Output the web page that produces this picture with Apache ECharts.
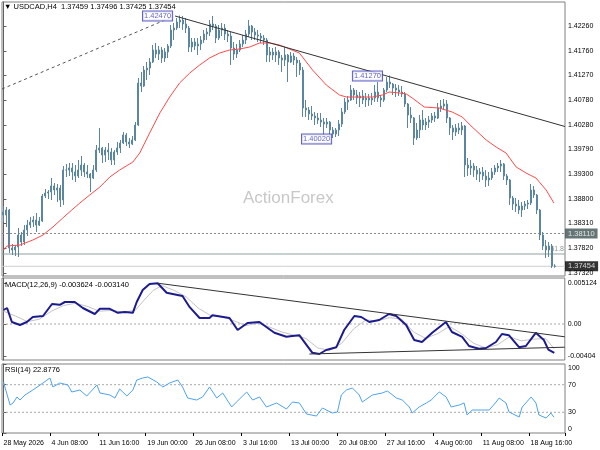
<!DOCTYPE html>
<html><head><meta charset="utf-8">
<script src="https://cdn.jsdelivr.net/npm/echarts@6/dist/echarts.min.js"></script>
<style>html,body{margin:0;padding:0;background:#fff}#c{width:600px;height:450px}</style>
</head><body><div id="c"></div><script>
const timeTickLabels = ["28 May 2026","4 Jun 08:00","11 Jun 16:00","19 Jun 00:00","26 Jun 08:00","3 Jul 16:00","13 Jul 00:00","20 Jul 08:00","27 Jul 16:00","4 Aug 00:00","11 Aug 08:00","18 Aug 16:00"];
const priceTicks = [1.4226,1.4176,1.4127,1.4078,1.4028,1.3979,1.3930,1.3880,1.3831,1.3782,1.3732];
const macdTicks = [0.005124, 0, -0.00404];
const macdTickText = ["0.005124","0.00","-0.00404"];
const rsiTicks = [100,70,30,0];
const rsiInnerTicks = [70,30];
const rsiEdgeTicks = [100,0];
const barSlots = 188;
const categories = Array.from({length: barSlots}, (_, i) => String(i));

// [open, close, low, high]
const ohlcBars = [
[1.3854,1.3848,1.3834,1.3866],[1.3848,1.3858,1.3824,1.3864],[1.3858,1.3782,1.3772,1.3860],[1.3782,1.3778,1.3768,1.3790],
[1.3778,1.3784,1.3766,1.3788],[1.3784,1.3808,1.3764,1.3822],[1.3808,1.3794,1.3786,1.3814],[1.3794,1.3818,1.3788,1.3828],
[1.3818,1.3828,1.3806,1.3838],[1.3828,1.3834,1.3822,1.3844],[1.3834,1.3838,1.3824,1.3846],[1.3838,1.3828,1.3814,1.3852],
[1.3828,1.3836,1.3826,1.3844],[1.3836,1.3886,1.3834,1.3890],[1.3886,1.3892,1.3882,1.3900],[1.3892,1.3894,1.3880,1.3898],
[1.3894,1.3906,1.3878,1.3922],[1.3906,1.3898,1.3888,1.3912],[1.3898,1.3902,1.3874,1.3910],[1.3902,1.3878,1.3864,1.3908],
[1.3878,1.3938,1.3868,1.3946],[1.3938,1.3938,1.3924,1.3950],[1.3938,1.3942,1.3926,1.3952],[1.3942,1.3934,1.3918,1.3952],
[1.3934,1.3926,1.3914,1.3948],[1.3926,1.3938,1.3922,1.3958],[1.3938,1.3948,1.3926,1.3966],[1.3948,1.3934,1.3924,1.3952],
[1.3934,1.3930,1.3922,1.3948],[1.3930,1.3922,1.3894,1.3932],[1.3922,1.3938,1.3920,1.3948],[1.3938,1.3978,1.3934,1.3988],
[1.3978,1.3982,1.3972,1.4022],[1.3982,1.3968,1.3952,1.3984],[1.3968,1.3978,1.3954,1.3984],[1.3978,1.3974,1.3958,1.3992],
[1.3974,1.3958,1.3948,1.3982],[1.3958,1.3974,1.3948,1.3978],[1.3974,1.3982,1.3968,1.3994],[1.3982,1.3992,1.3972,1.3998],
[1.3992,1.4008,1.3990,1.4014],[1.4008,1.3994,1.3986,1.4012],[1.3994,1.3990,1.3982,1.4002],[1.3990,1.3998,1.3988,1.4006],
[1.3998,1.4028,1.3996,1.4034],[1.4028,1.4112,1.4026,1.4122],[1.4112,1.4106,1.4094,1.4134],[1.4106,1.4138,1.4104,1.4146],
[1.4138,1.4142,1.4118,1.4154],[1.4142,1.4154,1.4128,1.4162],[1.4154,1.4178,1.4152,1.4188],[1.4178,1.4170,1.4162,1.4192],
[1.4170,1.4178,1.4158,1.4186],[1.4178,1.4162,1.4152,1.4184],[1.4162,1.4174,1.4154,1.4182],[1.4174,1.4186,1.4162,1.4190],
[1.4186,1.4218,1.4182,1.4228],[1.4218,1.4222,1.4198,1.4232],[1.4222,1.4234,1.4218,1.4242],[1.4234,1.4238,1.4222,1.4247],
[1.4238,1.4230,1.4218,1.4246],[1.4230,1.4222,1.4212,1.4242],[1.4222,1.4184,1.4174,1.4226],[1.4184,1.4194,1.4174,1.4202],
[1.4194,1.4186,1.4178,1.4202],[1.4186,1.4190,1.4168,1.4202],[1.4190,1.4198,1.4178,1.4206],[1.4198,1.4210,1.4192,1.4218],
[1.4210,1.4214,1.4198,1.4222],[1.4214,1.4230,1.4206,1.4238],[1.4230,1.4226,1.4218,1.4246],[1.4226,1.4202,1.4192,1.4230],
[1.4202,1.4218,1.4198,1.4228],[1.4218,1.4222,1.4206,1.4232],[1.4222,1.4210,1.4198,1.4230],[1.4210,1.4206,1.4194,1.4218],
[1.4206,1.4182,1.4148,1.4214],[1.4182,1.4170,1.4158,1.4194],[1.4170,1.4178,1.4162,1.4190],[1.4178,1.4190,1.4174,1.4198],
[1.4190,1.4198,1.4184,1.4208],[1.4198,1.4210,1.4190,1.4218],[1.4210,1.4226,1.4204,1.4238],[1.4226,1.4214,1.4198,1.4228],
[1.4214,1.4208,1.4198,1.4222],[1.4208,1.4206,1.4194,1.4218],[1.4206,1.4202,1.4192,1.4212],[1.4202,1.4198,1.4188,1.4208],
[1.4198,1.4168,1.4154,1.4202],[1.4168,1.4174,1.4154,1.4184],[1.4174,1.4168,1.4158,1.4182],[1.4168,1.4174,1.4154,1.4184],
[1.4174,1.4162,1.4148,1.4178],[1.4162,1.4158,1.4134,1.4168],[1.4158,1.4168,1.4146,1.4184],[1.4168,1.4154,1.4114,1.4170],
[1.4154,1.4166,1.4152,1.4174],[1.4166,1.4158,1.4148,1.4172],[1.4158,1.4152,1.4124,1.4164],[1.4152,1.4138,1.4128,1.4158],
[1.4138,1.4062,1.4044,1.4144],[1.4062,1.4058,1.4044,1.4078],[1.4058,1.4050,1.4038,1.4064],[1.4050,1.4046,1.4038,1.4066],
[1.4046,1.4042,1.4028,1.4054],[1.4042,1.4038,1.4030,1.4052],[1.4038,1.4034,1.4024,1.4052],[1.4034,1.4030,1.4008,1.4042],
[1.4030,1.4034,1.4022,1.4042],[1.4034,1.4018,1.4004,1.4036],[1.4018,1.4010,1.4002,1.4024],[1.4010,1.4018,1.4004,1.4022],
[1.4018,1.4030,1.4006,1.4038],[1.4030,1.4054,1.4024,1.4062],[1.4054,1.4074,1.4050,1.4082],[1.4074,1.4078,1.4058,1.4086],
[1.4078,1.4098,1.4076,1.4108],[1.4098,1.4088,1.4078,1.4102],[1.4088,1.4082,1.4070,1.4098],[1.4082,1.4086,1.4064,1.4094],
[1.4086,1.4078,1.4070,1.4098],[1.4078,1.4082,1.4064,1.4092],[1.4082,1.4078,1.4066,1.4090],[1.4078,1.4082,1.4068,1.4092],
[1.4082,1.4094,1.4074,1.4108],[1.4094,1.4082,1.4074,1.4114],[1.4082,1.4078,1.4064,1.4088],[1.4078,1.4098,1.4074,1.4102],
[1.4098,1.4114,1.4094,1.4124],[1.4114,1.4110,1.4102,1.4127],[1.4110,1.4102,1.4088,1.4112],[1.4102,1.4098,1.4084,1.4110],
[1.4098,1.4094,1.4086,1.4108],[1.4094,1.4090,1.4084,1.4106],[1.4090,1.4070,1.4064,1.4094],[1.4070,1.4048,1.4022,1.4072],
[1.4048,1.4042,1.4032,1.4064],[1.4042,1.4002,1.3988,1.4044],[1.4002,1.4018,1.3998,1.4032],[1.4018,1.4038,1.4002,1.4048],
[1.4038,1.4028,1.4018,1.4058],[1.4028,1.4034,1.4018,1.4042],[1.4034,1.4038,1.4022,1.4046],[1.4038,1.4046,1.4032,1.4052],
[1.4046,1.4042,1.4034,1.4054],[1.4042,1.4062,1.4040,1.4072],[1.4062,1.4066,1.4054,1.4078],[1.4066,1.4070,1.4058,1.4080],
[1.4070,1.4042,1.4032,1.4078],[1.4042,1.4022,1.4008,1.4044],[1.4022,1.4014,1.3998,1.4028],[1.4014,1.4022,1.4006,1.4030],
[1.4022,1.4018,1.4010,1.4032],[1.4018,1.4026,1.4008,1.4034],[1.4026,1.3948,1.3924,1.4028],[1.3948,1.3942,1.3926,1.3962],
[1.3942,1.3946,1.3928,1.3958],[1.3946,1.3938,1.3924,1.3952],[1.3938,1.3930,1.3918,1.3946],[1.3930,1.3934,1.3914,1.3942],
[1.3934,1.3926,1.3918,1.3944],[1.3926,1.3918,1.3904,1.3938],[1.3918,1.3922,1.3906,1.3934],[1.3922,1.3934,1.3918,1.3942],
[1.3934,1.3942,1.3928,1.3948],[1.3942,1.3946,1.3934,1.3952],[1.3946,1.3950,1.3934,1.3958],[1.3950,1.3926,1.3918,1.3952],
[1.3926,1.3918,1.3908,1.3930],[1.3918,1.3882,1.3868,1.3920],[1.3882,1.3870,1.3858,1.3886],[1.3870,1.3866,1.3854,1.3882],
[1.3866,1.3858,1.3850,1.3878],[1.3858,1.3866,1.3844,1.3874],[1.3866,1.3870,1.3858,1.3876],[1.3870,1.3872,1.3860,1.3878],
[1.3872,1.3898,1.3868,1.3910],[1.3898,1.3888,1.3882,1.3906],[1.3888,1.3858,1.3850,1.3890],[1.3858,1.3808,1.3798,1.3860],
[1.3808,1.3786,1.3778,1.3814],[1.3786,1.3778,1.3762,1.3798],[1.3778,1.3786,1.3764,1.3794],[1.3786,1.3746,1.3742,1.3790],
[1.37459,1.37454,1.37425,1.37496]
];

// moving average read at [bar position, price]
const maLine = [[0,1.3778],[1.2,1.3786],[5.5,1.3788],[9.8,1.3798],[13.2,1.3808],[16.5,1.3824],[19.8,1.3842],[22.8,1.3858],[25.5,1.3872],[28.8,1.3888],[32.2,1.3904],[35.5,1.3924],[38.8,1.3938],[43.2,1.3954],[45.5,1.3972],[48.8,1.4012],[52.2,1.4052],[55.5,1.4084],[58.8,1.4112],[62.2,1.4132],[65.5,1.4148],[68.8,1.4162],[72.2,1.4172],[75.5,1.4178],[78.8,1.4180],[82.2,1.4184],[85.5,1.4192],[88.8,1.4192],[92.2,1.4188],[98.8,1.4172],[103.2,1.4138],[107.8,1.4108],[112.2,1.4088],[114.5,1.4084],[118.8,1.4084],[123.2,1.4084],[126.5,1.4088],[128.8,1.4094],[132.2,1.4092],[134.5,1.4090],[136.5,1.4082],[140.5,1.4064],[145.5,1.4062],[149.8,1.4054],[153.2,1.4044],[156.5,1.4024],[161.2,1.3998],[164.5,1.3984],[167.8,1.3972],[171.2,1.3944],[174.5,1.3932],[177.8,1.3922],[181.2,1.3898],[183.8,1.3872]];

const trendDotted = [[-0.5,1.4100],[56.3,1.4244]];
const trendSolid = [[57.3,1.4246],[187.5,1.4025]];
const levelDotted = 1.3811;
const levelFib = 1.3770;
const levelBid = 1.37454;
const priceMarks = [[56.3,1.4246,"1.42470"],[126.4,1.4126,"1.41270"],[109.4,1.4000,"1.40020"]];

const macdMain = [[0,0.00175],[1.2,0.0020],[2.8,0.00025],[5.5,-0.000125],[7.8,0.00025],[9.8,0.000875],[13.2,0.001],[16.2,0.0025],[18.8,0.0024],[20.5,0.00275],[23.8,0.00275],[26.5,0.0020],[30.5,0.00125],[32.2,0.0019],[35.5,0.0019],[38.2,0.0014],[40.5,0.0015],[43.2,0.0014],[44.5,0.00275],[46.5,0.00425],[48.8,0.0050],[51.5,0.0051],[54.5,0.0039],[56.5,0.00375],[59.8,0.0035],[62.2,0.0021],[65.5,0.00075],[68.8,0.00075],[69.8,0.0011],[75.5,0.00075],[78.2,-0.00075],[81.5,0.000125],[85.5,0.00025],[87.8,-0.000375],[90.5,-0.0011],[94.5,-0.0016],[96.5,-0.0015],[98.8,-0.0014],[101.2,-0.0026],[103.2,-0.0036],[105.5,-0.00375],[107.8,-0.00325],[111.2,-0.0029],[113.8,-0.00075],[117.2,0.001],[119.5,0.000875],[122.2,0.00025],[125.5,0.0005],[128.8,0.00125],[131.2,0.001],[134.5,-0.000125],[137.2,-0.002],[139.8,-0.00225],[143.2,-0.0011],[147.8,0.00025],[149.8,-0.001],[153.2,-0.0016],[155.5,-0.00275],[158.8,-0.0031],[161.2,-0.003],[164.5,-0.00225],[166.5,-0.00125],[168.8,-0.0014],[172.2,-0.0029],[174.5,-0.00275],[177.8,-0.0011],[180.5,-0.0020],[182,-0.0032],[184,-0.0036]];
const macdSignal = [[0,0.0016],[4,0.0010],[8,0.0003],[12,0.0006],[16,0.0016],[20,0.0023],[24,0.0026],[28,0.0022],[32,0.0016],[36,0.0017],[40,0.0015],[44,0.0017],[47,0.0030],[50,0.0042],[53,0.0048],[57,0.0042],[61,0.0034],[65,0.0020],[69,0.0011],[73,0.0009],[77,0.0004],[81,-0.0002],[85,0.0001],[89,-0.0004],[93,-0.0010],[97,-0.0014],[101,-0.0018],[105,-0.0030],[109,-0.0033],[113,-0.0024],[117,-0.0006],[121,0.0005],[125,0.0004],[129,0.0008],[133,0.0006],[137,-0.0010],[141,-0.0018],[145,-0.0012],[149,-0.0003],[153,-0.0012],[157,-0.0024],[161,-0.0030],[165,-0.0026],[169,-0.0016],[173,-0.0021],[177,-0.0019],[181,-0.0018],[184,-0.0031]];
const macdTrendUpper = [[51.5,0.0051],[187.5,-0.0016]];
const macdTrendLower = [[102.2,-0.00375],[187.5,-0.0029]];

const rsiLine = [[0,73.9],[0.5,72.5],[2.2,40.6],[3.2,43.5],[4.5,52.2],[5.5,47.8],[7.2,55.1],[9.8,62.3],[13.2,72.5],[15.5,79.7],[16.5,66.7],[18.8,72.5],[21.5,69.6],[22.8,59.4],[25.5,62.3],[27.8,53.6],[31.2,69.6],[32.2,58],[35.5,55.1],[37.2,50.7],[38.8,63.8],[41.2,53.6],[43.2,62.3],[44.5,76.8],[46.5,79.7],[48.2,81.2],[51.2,73.9],[53.2,66.7],[55.5,72.5],[58.2,76.8],[59.8,66.7],[61.5,50.7],[64.5,47.8],[66.5,52.2],[68.8,66.7],[71.2,50.7],[73.2,58],[76.2,37.7],[77.8,44.9],[81.2,59.4],[83.2,47.8],[85.5,52.2],[87.8,37.7],[91.2,43.5],[94.5,34.8],[96.5,44.9],[98.8,43.5],[101.2,27.5],[104.5,24.6],[106.5,36.2],[109.8,29],[111.5,30.4],[112.8,55.1],[114.5,62.3],[116.5,65.2],[118.8,55.1],[119.8,44.9],[123.2,55.1],[126.5,58],[128.2,60.9],[131.2,50.7],[133.2,47.8],[135.5,37.7],[136.5,29],[138.8,37.7],[141.2,43.5],[142.8,47.8],[145.5,59.4],[147.8,52.2],[149.5,37.7],[152.2,40.6],[153.8,43.5],[154.8,26.1],[156.5,33.3],[159.5,33.3],[162.2,33.3],[164.5,44.9],[165.5,50.7],[167.8,43.5],[168.8,30.4],[172.2,23.2],[173.2,37.7],[176.2,52.2],[177.8,43.5],[178.8,26.1],[181.2,21.7],[182.8,29],[183.8,22.9]];
const rsiLevels = [70, 30];

const FONT = "Liberation Sans, Arial, sans-serif";
const xMin = -0.5, xMax = barSlots - 0.5;
const chart = echarts.init(document.getElementById('c'), null, {renderer: 'canvas'});

function hLine(y, xi, yi, style) {
  return {type:'line', xAxisIndex:xi, yAxisIndex:yi, data:[[xMin,y],[xMax,y]], symbol:'none', silent:true, lineStyle:style, z:1};
}
function segLine(data, xi, yi, style, z) {
  return {type:'line', xAxisIndex:xi, yAxisIndex:yi, data:data, symbol:'none', silent:true, lineStyle:style, z:z||3};
}
const gridBorder = {show:true, borderColor:'#808080', borderWidth:1};
const rightLabel = {fontSize:7, color:'#000', fontFamily:FONT, margin:3};

const seriesList = [
    hLine(levelDotted, 1, 0, {color:'#8a8a8a', width:1, type:[2,2]}),
    hLine(levelFib, 1, 0, {color:'#8fa0a0', width:1}),
    hLine(levelBid, 1, 0, {color:'#cfcfcf', width:1}),
    {type:'candlestick', xAxisIndex:0, yAxisIndex:0, data:ohlcBars, barWidth:1.5, z:2,
     itemStyle:{color:'#5b86a2', color0:'#5b86a2', borderColor:'#5b86a2', borderColor0:'#5b86a2', borderWidth:1}},
    segLine(maLine, 1, 0, {color:'#ff4a4a', width:1}, 3),
    segLine(trendDotted, 1, 0, {color:'#555', width:1, type:[3,3]}, 4),
    segLine(trendSolid, 1, 0, {color:'#333', width:1}, 4),
    {type:'scatter', xAxisIndex:1, yAxisIndex:0, symbolSize:0, silent:true, z:6,
     data:priceMarks.map(m => ({value:[m[0], m[1]], name:m[2]})),
     label:{show:true, position:'left', distance:0, formatter:p => p.name, fontSize:7.5, fontFamily:FONT,
       color:'#3a3ab8', backgroundColor:'#fff', borderColor:'#3a3ab8', borderWidth:1, padding:[1,1,0,1]}},
    {type:'scatter', xAxisIndex:1, yAxisIndex:0, symbolSize:0, silent:true, z:6,
     data:[{value:[xMax, levelFib], name:'61.8'}],
     label:{show:true, position:'left', distance:1, offset:[0,-5], formatter:p => p.name, fontSize:7, fontFamily:FONT, color:'#708080'}},
    {type:'scatter', xAxisIndex:1, yAxisIndex:0, symbolSize:0, silent:true, z:8, clip:false,
     data:[{value:[xMax, levelDotted], name:'1.38110', label:{backgroundColor:'#3f5252'}},
           {value:[xMax, levelBid], name:'1.37454', label:{backgroundColor:'#000'}}],
     label:{show:true, position:'right', distance:0, formatter:p => p.name, fontSize:7.5, fontFamily:FONT,
       color:'#fff', padding:[1,3,1,3]}},
    // MACD panel
    hLine(0, 2, 1, {color:'#a8a8a8', width:1, type:[2,2]}),
    segLine(macdSignal, 2, 1, {color:'#c4c4c4', width:1}, 3),
    segLine(macdMain, 2, 1, {color:'#1c1c90', width:2}, 4),
    segLine(macdTrendUpper, 2, 1, {color:'#333', width:1}, 5),
    segLine(macdTrendLower, 2, 1, {color:'#333', width:1}, 5),
    // RSI panel
    hLine(rsiLevels[0], 3, 2, {color:'#a8a8a8', width:1, type:[2,2]}),
    hLine(rsiLevels[1], 3, 2, {color:'#a8a8a8', width:1, type:[2,2]}),
    segLine(rsiLine, 3, 2, {color:'#4da3f0', width:1}, 4)
];
const rsiSeriesIndex = seriesList.length - 1;

chart.setOption({
  animation:false,
  backgroundColor:'#fff',
  grid:[
    Object.assign({left:2, top:2, width:563, height:274}, gridBorder),
    Object.assign({left:2, top:278, width:563, height:82}, gridBorder),
    Object.assign({left:2, top:364, width:563, height:69}, gridBorder)
  ],
  xAxis:[
    {type:'category', gridIndex:0, data:categories, boundaryGap:true, axisLine:{show:false}, axisTick:{show:false}, axisLabel:{show:false}, splitLine:{show:false}},
    {type:'value', gridIndex:0, min:xMin, max:xMax, show:false, position:'top'},
    {type:'value', gridIndex:1, min:xMin, max:xMax, show:false},
    {type:'value', gridIndex:2, min:xMin, max:xMax, show:false, position:'top'},
    {type:'category', gridIndex:2, data:categories, boundaryGap:true, position:'bottom',
     axisLine:{show:false},
     axisTick:{show:true, interval:15, length:3, lineStyle:{color:'#000'}},
     axisLabel:{interval:15, align:'left', margin:7, fontSize:7, color:'#000', fontFamily:FONT,
       formatter:(v, idx) => (idx % 16 === 0 && timeTickLabels[idx/16]) ? timeTickLabels[idx/16] : ''},
     splitLine:{show:false}}
  ],
  yAxis:[
    {type:'value', gridIndex:0, position:'right', min:1.3726, max:1.4274, scale:true,
     axisLine:{show:true, lineStyle:{color:'#606060'}},
     axisTick:{show:true, length:3, customValues:priceTicks, lineStyle:{color:'#606060'}},
     axisLabel:Object.assign({customValues:priceTicks, formatter:v => v.toFixed(5)}, rightLabel),
     splitLine:{show:false}},
    {type:'value', gridIndex:1, position:'right', min:-0.0045, max:0.00575,
     axisLine:{show:true, lineStyle:{color:'#606060'}},
     axisTick:{show:true, length:3, customValues:macdTicks, lineStyle:{color:'#606060'}},
     axisLabel:Object.assign({customValues:macdTicks, formatter:v => macdTickText[macdTicks.indexOf(v)] || ''}, rightLabel),
     splitLine:{show:false}},
    {type:'value', gridIndex:2, position:'right', min:0, max:100,
     axisLine:{show:true, lineStyle:{color:'#606060'}},
     axisTick:{show:true, length:3, customValues:rsiTicks, lineStyle:{color:'#606060'}},
     axisLabel:Object.assign({customValues:rsiInnerTicks}, rightLabel),
     splitLine:{show:false}}
  ],
  graphic:{elements:[
    {id:'hdr', type:'text', left:4, top:3, z:10, style:{text:'▼ USDCAD,H4  1.37459 1.37496 1.37425 1.37454', fontSize:7.5, fill:'#000', fontFamily:FONT}},
    {id:'wm', type:'text', left:243, top:190, z:0, style:{text:'ActionForex', fontSize:17, fill:'#c8c8c8', fontFamily:FONT}},
    {id:'macdHdr', type:'text', left:5, top:281, z:10, style:{text:'MACD(12,26,9) -0.003624 -0.003140', fontSize:7.5, fill:'#000', fontFamily:FONT}},
    {id:'rsiHdr', type:'text', left:5, top:366, z:10, style:{text:'RSI(14) 22.8776', fontSize:7.5, fill:'#000', fontFamily:FONT}}
  ]},
  series:seriesList
});

// edge labels of the RSI scale, placed through the series' own axes and nudged inside the panel
const edgeGraphics = [];
rsiEdgeTicks.forEach((v, k) => {
  const pt = chart.convertToPixel({seriesIndex: rsiSeriesIndex}, [xMax, v]);
  if (pt && isFinite(pt[0]) && isFinite(pt[1])) {
    edgeGraphics.push({id:'rsiEdge' + k, type:'text', x:pt[0] + 3, y:pt[1] + (k === 0 ? 4 : -4), z:10,
      style:{text:String(v), fontSize:7, fill:'#000', fontFamily:FONT, align:'left', verticalAlign:'middle'}});
  }
});
if (edgeGraphics.length) chart.setOption({graphic:{elements:edgeGraphics}});
</script></body></html>
